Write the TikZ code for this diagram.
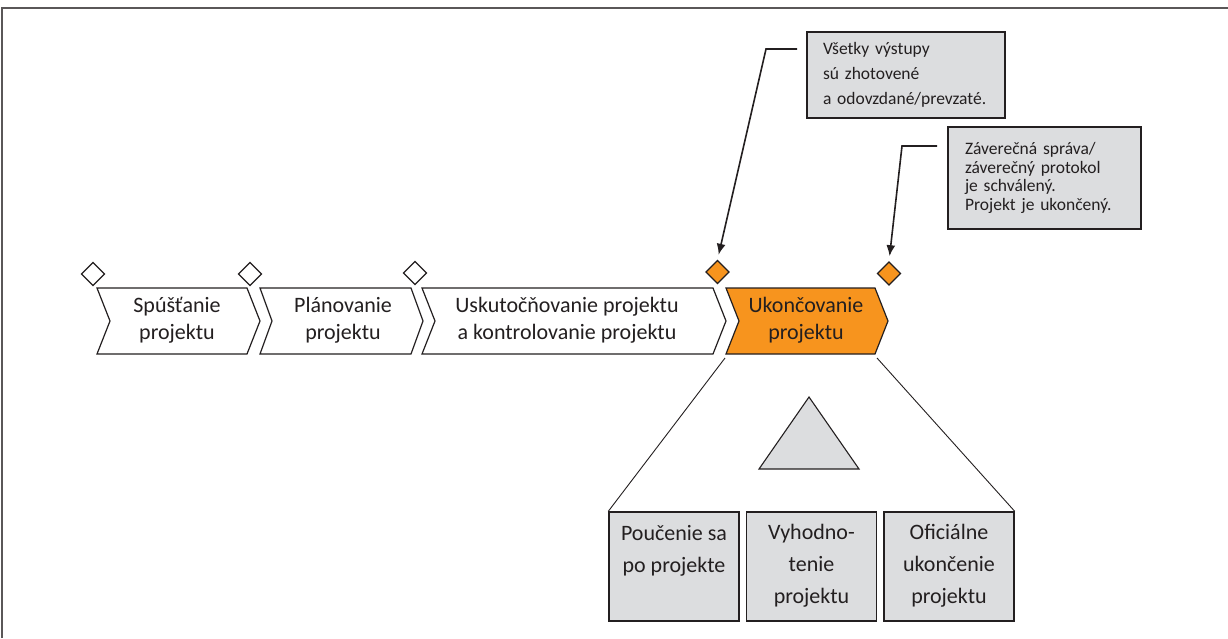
\documentclass[tikz,border=0pt]{standalone}
\usepackage{fontspec}
\setmainfont{Carlito}
\usetikzlibrary{shapes.geometric,arrows.meta}
\definecolor{orng}{RGB}{247,148,30}
\definecolor{lgray}{RGB}{220,221,223}
\definecolor{ink}{RGB}{35,31,32}
\begin{document}
\begin{tikzpicture}[x=1pt,y=-1pt,
  frameline/.style={draw=ink!75, line width=1.6pt},
  chev/.style={draw=ink, line width=1.2pt, line join=miter, fill=white},
  chevtxt/.style={align=center, inner sep=0pt, text=ink, font=\fontsize{22}{27}\selectfont},
  dia/.style={diamond, draw=ink, line width=1.2pt, fill=white, minimum width=23.5pt, minimum height=23.5pt, inner sep=0pt},
  odia/.style={dia, fill=orng},
  callbox/.style={draw=ink, line width=1.4pt, fill=lgray, align=left, text=ink, inner ysep=0pt},
  callarrow/.style={draw=ink, line width=1.6pt, -{Latex[length=11pt,width=9pt]}, shorten >=5pt},
  bbox/.style={draw=ink, line width=1.4pt, fill=lgray, minimum width=130pt, minimum height=109pt, inner sep=0pt},
  btxt/.style={align=center, inner sep=0pt, text=ink, font=\fontsize{22}{32}\selectfont},
  thinline/.style={draw=ink, line width=0.9pt}
]
\useasboundingbox (0,0) rectangle (1228,638);
% frame
\draw[frameline] (2,638) -- (2,8) -- (1228,8);

% chevrons
\draw[chev] (97,288) -- (247,288) -- (260,321) -- (247,354) -- (97,354) -- (110,321) -- cycle;
\draw[chev] (260,288) -- (411,288) -- (423,321) -- (411,354) -- (260,354) -- (272,321) -- cycle;
\draw[chev] (422,288) -- (713,288) -- (726,321) -- (713,354) -- (422,354) -- (435,321) -- cycle;
\draw[chev, fill=orng] (726,288) -- (875,288) -- (888,321) -- (875,354) -- (726,354) -- (739,321) -- cycle;
\coordinate (c4bl) at (725,358);
\coordinate (c4br) at (877,358);

\node[chevtxt] (t1) at (177,320) {Spúšťanie\\projektu};
\node[chevtxt] (t2) at (343,320) {Plánovanie\\projektu};
\node[chevtxt] (t3) at (567,320) {Uskutočňovanie projektu\\a kontrolovanie projektu};
\node[chevtxt] (t4) at (806,320) {Ukončovanie\\projektu};

% milestones
\node[dia] (d1) at (93,274) {};
\node[dia] (d2) at (250,274) {};
\node[dia] (d3) at (415,273) {};
\node[odia] (d4) at (717.5,272) {};
\node[odia] (d5) at (889,273.5) {};

% callouts
\node[callbox, text width=166pt, inner xsep=16pt, minimum height=86pt,
      font=\fontsize{17.5}{25}\selectfont] (k1) at (906,75)
  {Všetky výstupy\\sú zhotovené\\a odovzdané/prevzaté.};
\node[callbox, text width=159pt, inner xsep=17pt, minimum height=102pt,
      font=\fontsize{17.5}{18.7}\selectfont] (k2) at (1044.5,178)
  {Záverečná správa/\\záverečný protokol\\je schválený.\\Projekt je ukončený.};
\coordinate (k1a) at (797,49);
\coordinate (k2a) at (937,146);
\draw[callarrow] (k1a) -- (766,49) -- (d4.north);
\draw[callarrow] (k2a) -- (902,146) -- (d5.north);

% triangle
\draw[draw=ink, line width=1.1pt, fill=lgray, line join=miter] (809,397) -- (859,469) -- (759,469) -- cycle;

% bottom boxes
\node[bbox] (bA) at (674,566.5) {};
\node[bbox] (bB) at (811.5,566.5) {};
\node[bbox] (bC) at (949,566.5) {};
\node[btxt] (tA) at (674,551) {Poučenie sa\\po projekte};
\node[btxt] (tB) at (811.5,566) {Vyhodno-\\tenie\\projektu};
\node[btxt] (tC) at (949,566) {Oficiálne\\ukončenie\\projektu};

\draw[thinline] (c4bl) -- (bA.north west);
\draw[thinline] (c4br) -- (bC.north east);
\end{tikzpicture}
\end{document}
